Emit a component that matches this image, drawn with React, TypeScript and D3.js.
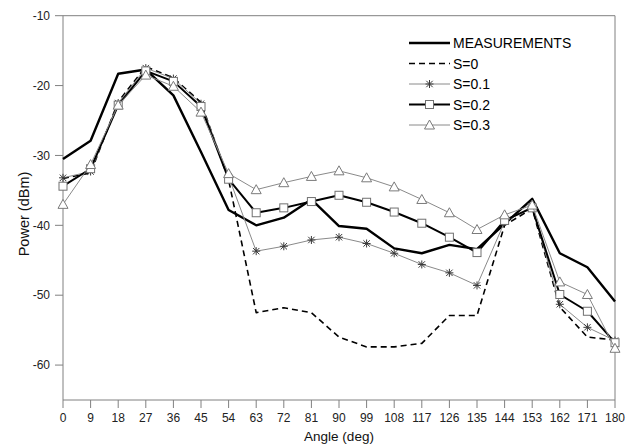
import React from "react";
import * as d3 from "d3";

const angles = [0, 9, 18, 27, 36, 45, 54, 63, 72, 81, 90, 99, 108, 117, 126, 135, 144, 153, 162, 171, 180];
const measurements = [-30.5, -27.9, -18.3, -17.7, -21.4, -29.5, -37.8, -40.0, -38.9, -36.3, -40.1, -40.5, -43.3, -44.0, -42.8, -43.4, -39.8, -36.2, -44.0, -46.0, -50.9];
const s0 = [-33.3, -32.5, -22.3, -17.3, -18.9, -22.4, -33.5, -52.5, -51.8, -52.5, -56.0, -57.4, -57.4, -56.9, -52.9, -52.9, -40.0, -37.6, -51.7, -56.0, -56.4];
const s01 = [-33.2, -32.3, -22.5, -17.5, -19.0, -22.6, -33.0, -43.7, -43.0, -42.1, -41.7, -42.6, -44.0, -45.6, -46.8, -48.6, -39.5, -37.3, -51.3, -54.6, -56.5];
const s02 = [-34.4, -31.9, -22.8, -17.9, -19.4, -23.0, -33.4, -38.2, -37.5, -36.6, -35.7, -36.7, -38.1, -39.7, -41.7, -43.9, -39.3, -37.5, -49.9, -52.3, -56.8];
const s03 = [-37.0, -31.3, -22.8, -18.5, -20.1, -23.8, -32.6, -34.9, -33.9, -33.0, -32.2, -33.2, -34.5, -36.3, -38.2, -40.6, -38.5, -37.1, -48.1, -49.9, -57.6];
const yTicks = [-10, -20, -30, -40, -50, -60];
const seriesNames = ["MEASUREMENTS", "S=0", "S=0.1", "S=0.2", "S=0.3"];

type Marker = "none" | "star" | "square" | "triangle";
interface Style { stroke: string; width: number; dash?: string; marker: Marker; mStroke: string; }
const styles: Style[] = [
  { stroke: "#000", width: 2.4, marker: "none", mStroke: "#000" },
  { stroke: "#000", width: 1.6, dash: "6,4", marker: "none", mStroke: "#000" },
  { stroke: "#8a8a8a", width: 1, marker: "star", mStroke: "#3a3a3a" },
  { stroke: "#000", width: 2, marker: "square", mStroke: "#707070" },
  { stroke: "#8a8a8a", width: 1, marker: "triangle", mStroke: "#7a7a7a" },
];

function MarkerShape({ type, x, y, color }: { type: Marker; x: number; y: number; color: string }) {
  if (type === "star") {
    const r = 4;
    const d = r * 0.8;
    return (
      <g stroke={color} strokeWidth={1}>
        <line x1={x} y1={y - r} x2={x} y2={y + r} />
        <line x1={x - d} y1={y - d} x2={x + d} y2={y + d} />
        <line x1={x - d} y1={y + d} x2={x + d} y2={y - d} />
        <line x1={x - r} y1={y} x2={x + r} y2={y} />
      </g>
    );
  }
  if (type === "square") {
    return <rect x={x - 4} y={y - 4} width={8} height={8} fill="#fff" stroke={color} strokeWidth={1} />;
  }
  if (type === "triangle") {
    const p = `${x},${y - 5} ${x + 5},${y + 4} ${x - 5},${y + 4}`;
    return <polygon points={p} fill="#fff" stroke={color} strokeWidth={1} />;
  }
  return null;
}

export default function App() {
  const W = 637, H = 448;
  const x = d3.scaleLinear().domain([0, 180]).range([63, 615]);
  const y = d3.scaleLinear().domain([-65, -10]).range([400, 15.7]);
  const data = [measurements, s0, s01, s02, s03];
  const line = d3.line<number>().x((_, i) => x(angles[i])).y((d) => y(d));
  const font = "Arial, 'Liberation Sans', sans-serif";
  const axisColor = "#808080";
  const [x0, x1] = x.range();
  const [yb, yt] = y.range();

  return (
    <svg width={W} height={H} style={{ position: "fixed", left: 0, top: 0, background: "#fff" }} fontFamily={font}>
      <rect width={W} height={H} fill="#fff" />
      {/* frame */}
      <line x1={x0} y1={yt} x2={x1} y2={yt} stroke={axisColor} strokeWidth={1} />
      <line x1={x1} y1={yt} x2={x1} y2={yb} stroke={axisColor} strokeWidth={1} />
      <line x1={x0} y1={yt} x2={x0} y2={yb} stroke={axisColor} strokeWidth={1} />
      <line x1={x0} y1={yb} x2={x1} y2={yb} stroke={axisColor} strokeWidth={1} />
      {/* y ticks */}
      {yTicks.map((t) => (
        <g key={t}>
          <line x1={x0 - 8} x2={x0} y1={y(t)} y2={y(t)} stroke={axisColor} />
          <text x={50} y={y(t)} dy="0.35em" textAnchor="end" fontSize={12} fill="#222">{t}</text>
        </g>
      ))}
      {/* x ticks */}
      {angles.map((a) => (
        <g key={a}>
          <line x1={x(a)} x2={x(a)} y1={yb} y2={yb + 8} stroke={axisColor} />
          <text x={x(a)} y={422} textAnchor="middle" fontSize={12} fill="#222">{a}</text>
        </g>
      ))}
      <text x={339} y={441} textAnchor="middle" fontSize={13.5} fill="#111">Angle (deg)</text>
      <text transform="translate(29,214) rotate(-90)" textAnchor="middle" fontSize={14.5} fill="#111">Power (dBm)</text>
      {/* series */}
      {data.map((vals, si) => {
        const st = styles[si];
        return (
          <g key={si}>
            <path d={line(vals) || ""} fill="none" stroke={st.stroke} strokeWidth={st.width} strokeDasharray={st.dash} strokeLinejoin="round" />
            {st.marker !== "none" && vals.map((v, i) => (
              <MarkerShape key={i} type={st.marker} x={x(angles[i])} y={y(v)} color={st.mStroke} />
            ))}
          </g>
        );
      })}
      {/* legend */}
      {seriesNames.map((name, i) => {
        const st = styles[i];
        const ly = 43 + i * 20.5;
        return (
          <g key={name}>
            <line x1={409} x2={450} y1={ly} y2={ly} stroke={st.stroke} strokeWidth={st.width} strokeDasharray={st.dash} />
            {st.marker !== "none" && <MarkerShape type={st.marker} x={429.5} y={ly} color={st.mStroke} />}
            <text x={453} y={ly} dy="0.36em" fontSize={14} fill="#000">{name}</text>
          </g>
        );
      })}
    </svg>
  );
}
